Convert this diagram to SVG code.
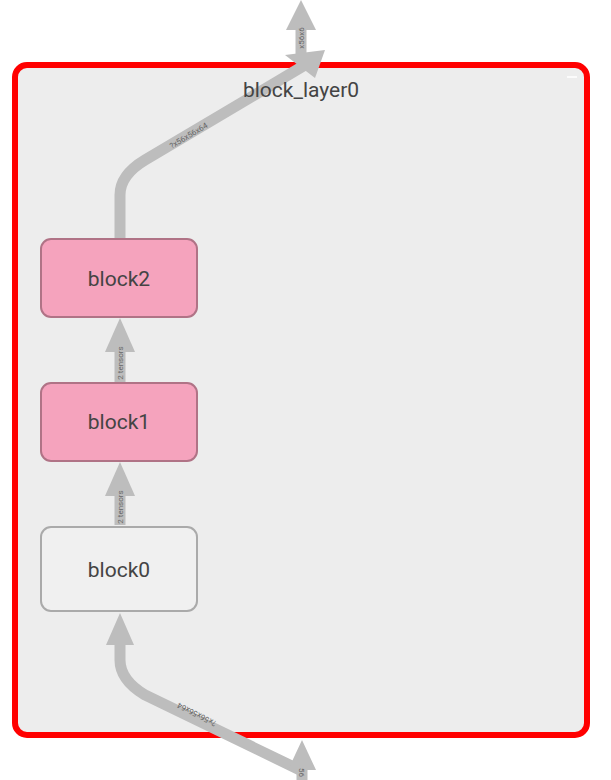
<svg xmlns="http://www.w3.org/2000/svg" width="611" height="780" viewBox="0 0 611 780">
<style>
.e{fill:none;stroke:#bdbdbd;stroke-width:11}
.h{fill:#bdbdbd}
.t{font-family:Roboto,"Liberation Sans",sans-serif;fill:#444}
.s{font-family:Roboto,"Liberation Sans",sans-serif;font-size:8px;fill:#666}
.n{stroke-width:2;rx:10}
</style>
<rect width="611" height="780" fill="#fff"/>
<g id="block_layer0">
<rect x="15" y="65" width="572" height="670" rx="12" fill="#ededed" stroke="#ff0000" stroke-width="6"/>
<line x1="567" y1="77" x2="577" y2="77" stroke="#fff" stroke-width="1.5"/>
</g>
<g id="connectors">
<path class="e" d="M120 240 V195 Q120 175 145 160 L305 65"/>
<polygon class="h" points="325,50 285,55 315,78"/>
<path class="e" d="M301 58 V30"/>
<polygon class="h" points="301,0 286,30 316,30"/>
<path class="e" d="M120 640 V660 Q120 680 145 695 L300 770"/>
<polygon class="h" points="120,613 106,645 134,645"/>
<path class="e" d="M302 770 V780"/>
<polygon class="h" points="302,740 288,770 316,770"/>
<path class="e" d="M120 382 V345"/>
<polygon class="h" points="120,318 105,352 135,352"/>
<path class="e" d="M120 525 V490"/>
<polygon class="h" points="120,462 105,496 135,496"/>
<text class="s" transform="translate(190,138) rotate(-31)" text-anchor="middle">?x56x56x64</text>
<text class="s" transform="translate(304,38) rotate(-90)" text-anchor="middle">x56x6</text>
<text class="s" transform="translate(198,712) rotate(-153)" text-anchor="middle">?x56x56x64</text>
<text class="s" transform="translate(299,768) rotate(90)">56</text>
<text class="s" transform="translate(123,363) rotate(-90)" text-anchor="middle">2 tensors</text>
<text class="s" transform="translate(123,507) rotate(-90)" text-anchor="middle">2 tensors</text>
</g>
<text class="t" x="301" y="97" font-size="21" text-anchor="middle">block_layer0</text>
<g id="block2"><rect class="n" x="41" y="239" width="156" height="78" fill="#f5a3bd" stroke="#b07386"/><text class="t" x="119" y="286" font-size="21" text-anchor="middle">block2</text></g>
<g id="block1"><rect class="n" x="41" y="383" width="156" height="78" fill="#f5a3bd" stroke="#b07386"/><text class="t" x="119" y="429" font-size="21" text-anchor="middle">block1</text></g>
<g id="block0"><rect class="n" x="41" y="527" width="156" height="84" fill="#f0f0f0" stroke="#aaaaaa"/><text class="t" x="119" y="577" font-size="21" text-anchor="middle">block0</text></g>
</svg>
